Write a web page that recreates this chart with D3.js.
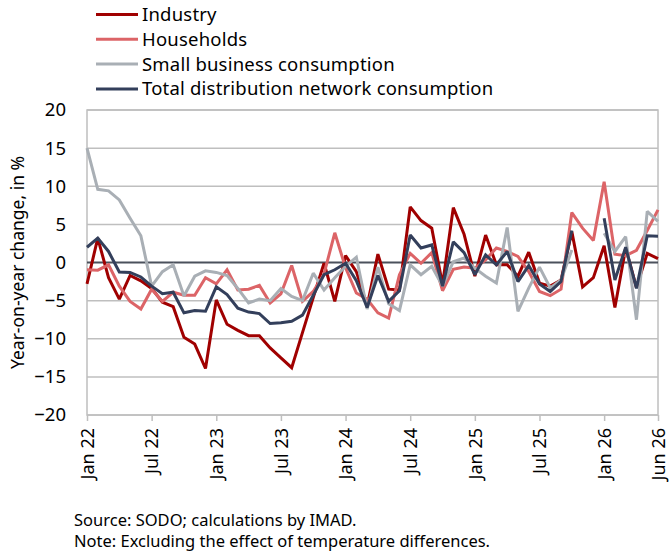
<!DOCTYPE html>
<html>
<head>
<meta charset="utf-8">
<script src="https://cdn.jsdelivr.net/npm/d3@7"></script>
<style>
  body { margin: 0; background: #fff; }
  text { font-family: "Noto Sans", sans-serif; fill: #000; }
</style>
</head>
<body>
<svg id="chart" width="671" height="558"></svg>
<script>
// monthly labels, Jan 22 .. Jun 26
const months = d3.timeMonth
  .range(new Date(2022, 0, 1), new Date(2026, 6, 1))
  .map(d3.timeFormat("%b %y"));

const tickLabels = ["Jan 22", "Jul 22", "Jan 23", "Jul 23", "Jan 24", "Jul 24", "Jan 25", "Jul 25", "Jan 26", "Jun 26"];
const yTicks = [-20, -15, -10, -5, 0, 5, 10, 15, 20];

const industry = [
  -2.8, 3.2, -2.0, -4.8, -1.7, -2.4, -3.4, -5.2, -5.8, -9.8, -10.7, -13.9,
  -4.9, -8.1, -8.9, -9.6, -9.6, -11.2, -12.5, -13.8, -9.2, -4.6, -0.1, -5.1,
  0.9, -1.2, -5.7, 1.1, -3.5, -3.6, 7.3, 5.5, 4.5, -2.9, 7.2, 3.7,
  -1.8, 3.6, -0.3, -0.3, -1.8, 1.35, -2.7, -3.1, -2.3, 4.05, -3.2, -2.0,
  2.2, -5.9, 1.9, -3.3, 1.2, 0.5
];
const households = [
  -0.95, -1.0, -0.3, -3.1, -5.1, -6.1, -3.5, -5.1, -3.9, -4.3, -4.3, -2.0,
  -2.8, -0.95, -3.6, -3.5, -3.0, -5.3, -4.1, -0.4, -5.1, -3.8, -1.5, 3.9,
  -0.7, -4.0, -4.8, -6.6, -7.3, -1.6, 1.2, -0.1, 1.3, -3.7, -0.9, -0.6,
  -0.75, 0.35, 1.9, 1.45, 0.8, -1.2, -3.8, -4.35, -3.5, 6.55, 4.5, 2.9,
  10.6, 1.1, 0.9, 1.6, 4.2, 6.9
];
const smallBusiness = [
  15.0, 9.6, 9.4, 8.2, 5.8, 3.5, -3.1, -1.2, -0.3, -4.4, -1.8, -1.1,
  -1.3, -1.7, -3.4, -5.3, -4.8, -5.0, -3.4, -4.45, -5.0, -1.4, -3.6, -2.0,
  -0.5, 0.7, -6.1, -0.6, -5.4, -6.3, -0.3, -1.6, -0.5, -3.1, 0.1, 0.6,
  -0.75, -1.8, -2.7, 4.6, -6.4, -3.35, -0.6, -3.35, -2.3, 1.65, null, null,
  3.85, 1.45, 3.4, -7.5, 6.7, 5.4
];
const total = [
  2.0, 3.2, 1.45, -1.25, -1.3, -1.9, -3.1, -4.1, -3.9, -6.6, -6.3, -6.4,
  -3.2, -4.2, -6.0, -6.5, -6.7, -8.0, -7.9, -7.7, -6.9, -4.3, -1.6, -0.95,
  -0.1, -2.4, -5.9, -1.7, -5.1, -3.7, 3.6, 1.9, 2.3, -3.1, 2.7, 1.3,
  -1.6, 1.0, -0.3, 1.45, -2.5, -0.4, -2.8, -3.8, -2.5, 4.2, null, null,
  5.8, -2.3, 2.0, -3.4, 3.5, 3.45
];

const series = [
  { name: "Industry", values: industry, color: "#a00000" },
  { name: "Households", values: households, color: "#dc6467" },
  { name: "Small business consumption", values: smallBusiness, color: "#a9afb5" },
  { name: "Total distribution network consumption", values: total, color: "#333f5b" },
];

const margin = { top: 110, right: 13, bottom: 143, left: 87 };
const width = 671, height = 558;

const svg = d3.select("#chart");

const x = d3.scalePoint()
  .domain(months)
  .range([margin.left, width - margin.right]);

const y = d3.scaleLinear()
  .domain([-20, 20])
  .range([height - margin.bottom, margin.top]);

// grid lines
svg.append("g")
  .selectAll("line")
  .data(yTicks.filter((d) => d !== 0))
  .enter()
  .append("line")
  .attr("x1", margin.left)
  .attr("x2", width - margin.right)
  .attr("y1", (d) => y(d))
  .attr("y2", (d) => y(d))
  .attr("stroke", "#bfbfbf")
  .attr("stroke-width", 1.5);

// plot border
svg.append("rect")
  .attr("x", margin.left)
  .attr("y", margin.top)
  .attr("width", width - margin.right - margin.left)
  .attr("height", y(-20) - margin.top)
  .attr("fill", "none")
  .attr("stroke", "#bfbfbf")
  .attr("stroke-width", 1.5);

// y axis labels
svg.append("g")
  .attr("transform", `translate(${margin.left},0)`)
  .call(d3.axisLeft(y).tickValues(yTicks).tickSize(0).tickPadding(21).tickFormat(d3.format("d")))
  .call((g) => g.select(".domain").remove())
  .call((g) => g.selectAll("text")
    .style("font-family", '"Noto Sans", sans-serif')
    .style("font-size", "18.5px")
    .attr("fill", "#000"));

// x axis with rotated labels
const xAxis = svg.append("g")
  .attr("transform", `translate(0,${y(-20)})`)
  .call(d3.axisBottom(x).tickValues(tickLabels).tickSize(6).tickPadding(0));
xAxis.select(".domain").remove();
xAxis.selectAll("line").attr("stroke", "#bfbfbf").attr("stroke-width", 1.5);
xAxis.selectAll("text")
  .style("font-family", '"Noto Sans", sans-serif')
  .style("font-size", "18px")
  .attr("fill", "#000")
  .attr("transform", "rotate(-90)")
  .attr("text-anchor", "end")
  .attr("x", -13)
  .attr("y", 0)
  .attr("dy", "0.35em");

// zero line
svg.append("line")
  .attr("x1", margin.left)
  .attr("x2", width - margin.right)
  .attr("y1", y(0))
  .attr("y2", y(0))
  .attr("stroke", "#4b515c")
  .attr("stroke-width", 2);

// series lines
const line = d3.line()
  .defined((d) => d != null)
  .x((d, i) => x(months[i]))
  .y((d) => y(d));

svg.append("g")
  .selectAll("path")
  .data(series)
  .enter()
  .append("path")
  .attr("d", (s) => line(s.values))
  .attr("fill", "none")
  .attr("stroke", (s) => s.color)
  .attr("stroke-width", 3)
  .attr("stroke-linejoin", "miter")
  .attr("stroke-miterlimit", 2);

// legend
const legend = svg.append("g")
  .selectAll("g")
  .data(series)
  .enter()
  .append("g")
  .attr("transform", (d, i) => `translate(96,${14.5 + i * 24.8})`);

legend.append("line")
  .attr("x1", 0)
  .attr("x2", 42)
  .attr("stroke", (d) => d.color)
  .attr("stroke-width", 3);

legend.append("text")
  .attr("x", 46)
  .attr("dy", "0.35em")
  .style("font-size", "18.5px")
  .style("letter-spacing", "0.2px")
  .text((d) => d.name);

// y axis title
svg.append("text")
  .attr("transform", `translate(24,${y(0)}) rotate(-90)`)
  .attr("text-anchor", "middle")
  .style("font-size", "17.5px")
  .text("Year-on-year change, in %");

// notes
svg.append("text")
  .attr("x", 74)
  .attr("y", 526)
  .style("font-size", "16.5px")
  .text("Source: SODO; calculations by IMAD.");

svg.append("text")
  .attr("x", 74)
  .attr("y", 547)
  .style("font-size", "16.5px")
  .text("Note: Excluding the effect of temperature differences.");
</script>
</body>
</html>
